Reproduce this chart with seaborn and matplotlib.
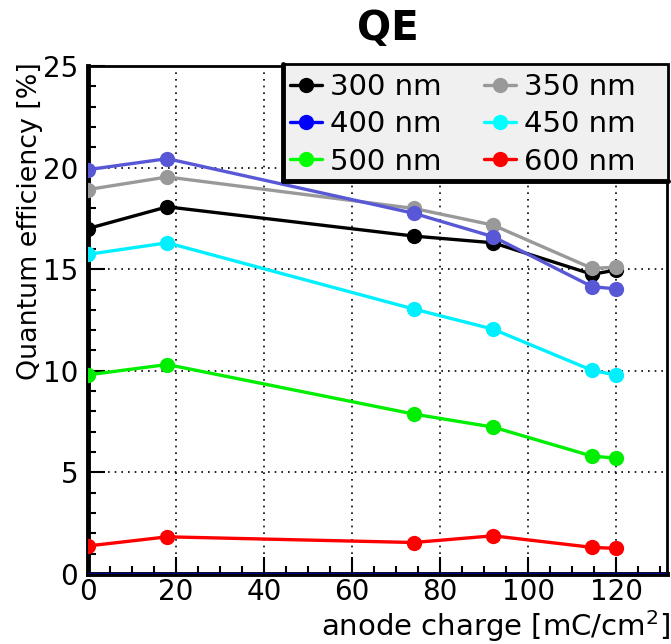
import matplotlib
matplotlib.use("Agg")
import matplotlib.pyplot as plt
from matplotlib.lines import Line2D
from matplotlib.patches import Rectangle
from matplotlib.ticker import MultipleLocator
import seaborn as sns
import pandas as pd

charge = [0, 18, 74, 92, 114.5, 120]
qe_300 = [17.0, 18.07, 16.63, 16.3, 14.75, 14.96]
qe_350 = [18.92, 19.54, 17.99, 17.17, 15.04, 15.1]
qe_400 = [19.9, 20.44, 17.75, 16.6, 14.14, 14.03]
qe_450 = [15.73, 16.3, 13.04, 12.05, 10.02, 9.79]
qe_500 = [9.8, 10.31, 7.87, 7.23, 5.8, 5.7]
qe_600 = [1.38, 1.83, 1.55, 1.88, 1.31, 1.26]

labels = ["300 nm", "350 nm", "400 nm", "450 nm", "500 nm", "600 nm"]
series = [qe_300, qe_350, qe_400, qe_450, qe_500, qe_600]
line_colors = ["#000000", "#999999", "#5858d6", "#00f0ff", "#00ee00", "#ff0000"]
legend_colors = ["#000000", "#999999", "#0000ff", "#00ffff", "#00ff00", "#ff0000"]

rows = []
for lab, vals in zip(labels, series):
    for x, y in zip(charge, vals):
        rows.append({"charge": x, "qe": y, "wl": lab})
df = pd.DataFrame(rows)

sns.set_style("white")
plt.rcParams['font.family'] = ['DejaVu Sans']
plt.rcParams['text.color'] = 'black'
plt.rcParams['axes.labelcolor'] = 'black'
plt.rcParams['xtick.color'] = 'black'
plt.rcParams['ytick.color'] = 'black'

W, H = 671, 644
fig = plt.figure(figsize=(W / 100, H / 100), dpi=100)
ax = fig.add_axes([88 / W, 1 - 574 / H, (667 - 88) / W, (574 - 66) / H])

ax.grid(True, which="major", color="black", linestyle=(0, (1, 3)), linewidth=1.2)
ax.set_axisbelow(True)

sns.lineplot(data=df, x="charge", y="qe", hue="wl", hue_order=labels,
             palette=dict(zip(labels, line_colors)), marker="o", markersize=11,
             markeredgewidth=0, linewidth=2.4, legend=False, ax=ax, zorder=3)

ax.axhline(0, color="#000080", linewidth=2.5, zorder=4)

ax.set_xlim(0, 131.5)
ax.set_ylim(0, 25)
ax.xaxis.set_major_locator(MultipleLocator(20))
ax.xaxis.set_minor_locator(MultipleLocator(5))
ax.yaxis.set_major_locator(MultipleLocator(5))
ax.yaxis.set_minor_locator(MultipleLocator(1))
ax.tick_params(axis="both", which="major", direction="in", length=12, width=1.5,
               labelsize=20, top=False, right=False, bottom=True, left=True)
ax.tick_params(axis="both", which="minor", direction="in", length=6, width=1.5,
               top=False, right=False, bottom=True, left=True)
ax.tick_params(axis="x", pad=3)
ax.tick_params(axis="y", pad=7)

for side in ["left", "bottom"]:
    ax.spines[side].set_linewidth(3.5)
for side in ["top", "right"]:
    ax.spines[side].set_linewidth(2)
for s in ax.spines.values():
    s.set_color("black")

ax.set_xlabel("anode charge [mC/cm$^{2}$]", fontsize=21)
ax.xaxis.label.set_ha("right")
ax.xaxis.label.set_va("center")
ax.xaxis.set_label_coords(1.005, -0.103)
ax.set_ylabel("Quantum efficiency [%]", fontsize=19.4)
ax.yaxis.label.set_ha("right")
ax.yaxis.label.set_va("center")
ax.yaxis.set_label_coords(-0.1, 1.008)

fig.text(0.578, 0.955, "QE", fontsize=29, fontweight="bold", ha="center", va="center")

# legend frame (ROOT style box with shadow on left/bottom)
x0, x1, yt, yb = 283 / W, 668 / W, 1 - 64 / H, 1 - 181 / H
fig.patches.append(Rectangle((x0, yb), x1 - x0, yt - yb, transform=fig.transFigure,
                             facecolor="#f0f0f0", edgecolor="black", linewidth=2,
                             zorder=5))
fig.lines.append(Line2D([x0, x0], [yb, yt], transform=fig.transFigure,
                        color="black", linewidth=3.5, zorder=6))
fig.lines.append(Line2D([x0, x1], [yb, yb], transform=fig.transFigure,
                        color="black", linewidth=3.5, zorder=6))

handles = [Line2D([0], [0], color=c, marker="o", markersize=11, markeredgewidth=0,
                  linewidth=2.4) for c in legend_colors]
# matplotlib fills legend column-wise; reorder so rows read 300|350, 400|450, 500|600
col_order = [0, 2, 4, 1, 3, 5]
leg = fig.legend([handles[i] for i in col_order], [labels[i] for i in col_order],
                 ncol=2, loc="upper left",
                 bbox_to_anchor=(290 / W, 1 - 73 / H), fontsize=21, frameon=False,
                 handlelength=1.1, handletextpad=0.27,
                 columnspacing=1.44, labelspacing=0.32, borderpad=0,
                 borderaxespad=0)
leg.set_zorder(7)

fig.savefig("out.png", dpi=100)
